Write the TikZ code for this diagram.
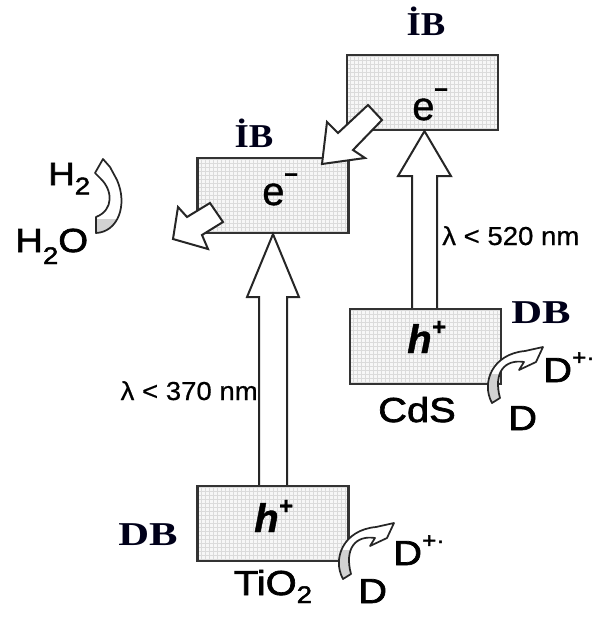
\documentclass[tikz,border=0pt]{standalone}
\usepackage{fontspec}
\setmainfont{Liberation Sans}[FakeStretch=1.15,FakeBold=2]
\newfontfamily\plainf{Liberation Sans}[FakeBold=1]
\newfontfamily\lamf{Liberation Sans}[FakeStretch=1.06,FakeBold=0.6]
\newfontfamily\tnrD{Liberation Serif}[FakeStretch=1.28]
\newfontfamily\tnrI{Liberation Serif}[FakeStretch=1.1]
\usetikzlibrary{calc}
\newcommand{\fs}[1]{\fontsize{#1}{#1}\selectfont}
\newcommand{\upsc}[3]{\raisebox{#1}{\fs{#2}#3}}
\newcommand{\sbs}[2]{\raisebox{-#1}{\fs{18}#2}}
\begin{document}
\begin{tikzpicture}[x=0.75pt,y=-0.75pt,
  band/.style={draw=black!80, line width=1.9pt, fill=gray!6,
    minimum width=113pt, minimum height=56pt, inner sep=0pt,
    path picture={\draw[gray!28,line width=0.35pt] (path picture bounding box.south west) grid[step=3pt] (path picture bounding box.north east);}},
  blk/.style={draw=black!85, line width=1.5pt, fill=white, line join=miter},
  curvline/.style={draw=black!85, line width=1.3pt, line join=round},
  lbl/.style={font=\fs{26}, inner sep=0pt},
  lam/.style={font={\lamf\fs{19.5}}, inner sep=0pt},
  ibI/.style={font={\tnrI\bfseries\fs{25}}, inner sep=0pt, text=black!90!blue},
  ibD/.style={font={\tnrD\bfseries\fs{25}}, inner sep=0pt, text=black!90!blue},
  carrier/.style={font={\plainf\fs{30}}, inner sep=0pt}]
\useasboundingbox (0,0) rectangle (598,619);
% band boxes
\node[band] (tcb) at (273,195.5) {};
\node[band] (ccb) at (422.5,92.5) {};
\node[band] (cvb) at (425.5,346.5) {};
\node[band] (tvb) at (273,523.5) {};
% vertical excitation arrows
\draw[blk] ($(tvb.north)+(-14,0)$) -- ($(tcb.south)+(-14,63)$) -- ($(tcb.south)+(-26,63)$) -- (tcb.south) -- ($(tcb.south)+(26,63)$) -- ($(tcb.south)+(14,63)$) -- ($(tvb.north)+(14,0)$);
\coordinate (cb) at ($(cvb.north)+(-1,0)$);
\coordinate (ct) at (cb |- ccb.south);
\draw[blk] ($(cb)+(-12.5,0)$) -- ($(ct)+(-12.5,45)$) -- ($(ct)+(-26.5,45)$) -- (ct) -- ($(ct)+(26.5,45)$) -- ($(ct)+(12.5,45)$) -- ($(cb)+(12.5,0)$);
% electron transfer arrows
\draw[blk] (368,105) -- (338,133) -- (327,122) -- (322,164) -- (365,158) -- (353,150) -- (382,120) -- cycle;
\draw[blk] (210,203) -- (187,217) -- (178,207) -- (173,239) -- (208,249) -- (202,235) -- (223,222) -- cycle;
% curved arrows
\def\hpath{(96,233) .. controls (118,232) and (128,205) .. (117,180) -- (110,167) -- (103,159) -- (95,173) -- (100,178) .. controls (113,190) and (114,210) .. (96,217) -- cycle}
\fill[white] \hpath;
\begin{scope}
  \clip (90,219) rectangle (125,240);
  \fill[gray!35] \hpath;
\end{scope}
\draw[curvline] \hpath;
\def\dpath{(492,403) .. controls (481,383) and (492,354) .. (525,351) -- (543,347) -- (536,362) -- (519,370) -- (524,362) .. controls (505,359) and (493,372) .. (500,398) -- cycle}
\foreach \sx/\sy in {0/0,-149/176}{
  \begin{scope}[shift={(\sx,\sy)}]
    \fill[white] \dpath;
    \begin{scope}
      \clip (480,374) rectangle (512,410);
      \fill[gray!35] \dpath;
    \end{scope}
    \draw[curvline] \dpath;
  \end{scope}
}
% labels
\node[ibI, anchor=base] (ibR) at (426,35) {İB};
\node[ibI, anchor=base] (ibL) at (254,147) {İB};
\node[ibD, anchor=base] (dbR) at (541,323) {DB};
\node[ibD, anchor=base] (dbL) at (148,545) {DB};
\node[carrier, anchor=base west] (eL) at (262,205) {e\upsc{0.6em}{18}{\bfseries –}};
\node[carrier, anchor=base west] (eR) at (412,120) {e\upsc{0.6em}{18}{\bfseries –}};
\node[carrier, anchor=base west, font={\plainf\fs{30}\bfseries\itshape}] (hR) at (407,353) {h\upsc{0.45em}{18}{+}};
\node[carrier, anchor=base west, font={\plainf\fs{30}\bfseries\itshape}] (hL) at (254,532) {h\upsc{0.45em}{18}{+}};
\node[lbl, anchor=base] (cds) at (417,422) {CdS};
\node[lbl, anchor=base] (tio) at (273,595) {TiO\sbs{6pt}{2}};
\node[lam, anchor=base east] (l370) at (258,400) {λ < 370 nm};
\node[lam, anchor=base west] (l520) at (442,245) {λ < 520 nm};
\node[lbl, anchor=base west, font=\fs{24}] (h2) at (48,185) {H\sbs{7pt}{2}};
\node[lbl, anchor=base west, font=\fs{25}] (h2o) at (15,252) {H\sbs{9pt}{2}O};
\node[lbl, anchor=base west] (dpR) at (543,382) {D\upsc{0.5em}{16}{+·}};
\node[lbl, anchor=base west] (dR) at (508,430) {D};
\node[lbl, anchor=base west] (dpL) at (393,565) {D\upsc{0.5em}{16}{+·}};
\node[lbl, anchor=base west] (dL) at (358,603) {D};
\end{tikzpicture}
\end{document}
